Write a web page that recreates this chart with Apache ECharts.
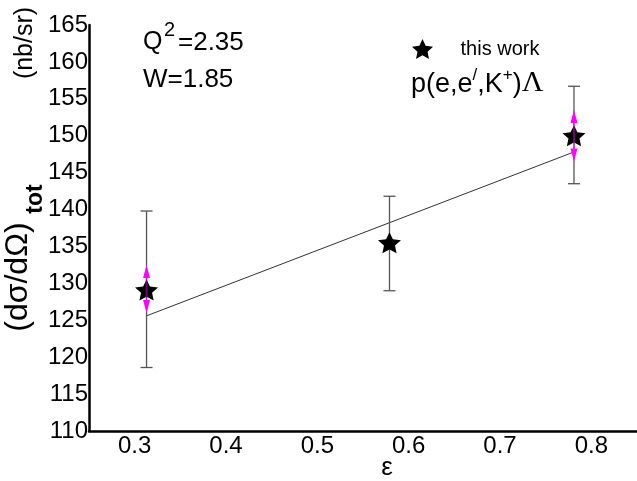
<!DOCTYPE html>
<html>
<head>
<meta charset="utf-8">
<script src="https://cdn.jsdelivr.net/npm/echarts@6/dist/echarts.min.js"></script>
<style>html,body{margin:0;padding:0;background:#fff}#c{width:637px;height:481px}</style>
</head>
<body>
<div id="c"></div>
<script>
// ---- data ----
const epsilon = [0.313, 0.579, 0.781];
const sigma = [129.1, 135.5, 150.0];
const errLow = [118.6, 129.0, 143.5];
const errHigh = [139.8, 141.8, 156.7];
const sysEps = [0.313, 0.781];
const sysLow = [126.0, 146.5];
const sysHigh = [132.5, 153.5];
const fitEps = [0.313, 0.781];
const fitVal = [125.6, 147.8];
const yTicks = [110, 115, 120, 125, 130, 135, 140, 145, 150, 155, 160, 165];
const xTicks = [0.3, 0.4, 0.5, 0.6, 0.7, 0.8];

const STAR = 'path://M50,0 L64.11,30.58 L97.55,34.55 L72.83,57.42 L79.39,90.45 L50,74 L20.61,90.45 L27.17,57.42 L2.45,34.55 L35.89,30.58 Z';
const FONT = 'Arial, "Liberation Sans", Helvetica, sans-serif';

const chart = echarts.init(document.getElementById('c'), null, {renderer: 'canvas'});

const errData = epsilon.map((e, i) => [e, errLow[i], errHigh[i]]);
const sysData = sysEps.map((e, i) => [e, sysLow[i], sysHigh[i]]);

chart.setOption({
  animation: false,
  backgroundColor: '#ffffff',
  textStyle: {fontFamily: FONT},
  grid: {left: 89, right: 0, top: 25, bottom: 50, containLabel: false},
  legend: {
    data: [{name: 'this work', icon: STAR, itemStyle: {color: '#000', opacity: 1}}],
    left: 407, top: 34,
    itemWidth: 22, itemHeight: 20,
    textStyle: {fontSize: 20, color: '#000', fontFamily: FONT, padding: [0, 0, 0, 22]},
    selectedMode: false
  },
  xAxis: {
    type: 'value', min: 0.25, max: 0.85,
    splitNumber: 6,
    axisLine: {show: true, lineStyle: {color: '#000', width: 2.5}},
    axisTick: {show: false},
    splitLine: {show: false},
    axisLabel: {
      showMinLabel: false, showMaxLabel: false,
      fontSize: 24, color: '#000', margin: 3, fontFamily: FONT,
      formatter: v => {
        const t = xTicks.find(k => Math.abs(k - v) < 1e-6);
        return t === undefined ? '' : t.toFixed(1);
      }
    }
  },
  yAxis: {
    type: 'value', min: yTicks[0], max: yTicks[yTicks.length - 1], interval: 5,
    axisLine: {show: true, lineStyle: {color: '#000', width: 2.5}},
    axisTick: {show: false},
    splitLine: {show: false},
    axisLabel: {fontSize: 24, color: '#000', margin: 1, fontFamily: FONT}
  },
  graphic: [
    {type: 'text', left: 143, top: 30, style: {text: 'Q', fontSize: 25, fontFamily: FONT, fill: '#000'}},
    {type: 'text', left: 164, top: 20, style: {text: '2', fontSize: 20, fontFamily: FONT, fill: '#000'}},
    {type: 'text', left: 178, top: 30, style: {text: '=2.35', fontSize: 26, fontFamily: FONT, fill: '#000'}},
    {type: 'text', left: 143, top: 67, style: {text: 'W=1.85', fontSize: 26, fontFamily: FONT, fill: '#000'}},
    {type: 'text', left: 411, top: 67, style: {
      text: '{a|p(e,e}{s|/}{a|,K}{s|+}{a|)}{g|Λ}',
      rich: {
        a: {fontSize: 27, fontFamily: FONT, fill: '#000', lineHeight: 31, verticalAlign: 'bottom'},
        s: {fontSize: 17, fontFamily: FONT, fill: '#000', lineHeight: 17, verticalAlign: 'top'},
        g: {fontSize: 30, fontFamily: '"Liberation Serif", "Times New Roman", serif', fill: '#000', lineHeight: 31, verticalAlign: 'bottom'}
      }
    }},
    {type: 'text', x: 25, y: 43, rotation: Math.PI / 2, style: {
      text: '(nb/sr)', fontSize: 25, fontFamily: FONT, fill: '#000', align: 'center', verticalAlign: 'middle'}},
    {type: 'text', x: 18, y: 277, rotation: Math.PI / 2, style: {
      text: '(dσ/dΩ)', fontSize: 32, fontFamily: FONT, fill: '#000', align: 'center', verticalAlign: 'middle'}},
    {type: 'text', x: 36, y: 199, rotation: Math.PI / 2, style: {
      text: 'tot', fontSize: 23, fontWeight: 'bold', fontFamily: FONT, fill: '#000', align: 'center', verticalAlign: 'middle'}},
    {type: 'text', x: 387, y: 468, style: {
      text: 'ε', fontSize: 26, fontFamily: FONT, fill: '#000', align: 'center', verticalAlign: 'middle'}}
  ],
  series: [
    {
      name: 'fit', type: 'line', data: fitEps.map((e, i) => [e, fitVal[i]]),
      symbol: 'none', lineStyle: {color: '#333', width: 1}, z: 2, silent: true
    },
    {
      name: 'stat', type: 'custom', data: errData, z: 3,
      renderItem: function (params, api) {
        const x = api.value(0);
        const lo = api.coord([x, api.value(1)]);
        const hi = api.coord([x, api.value(2)]);
        const w = 6;
        const st = {stroke: '#555', lineWidth: 1.3};
        return {type: 'group', children: [
          {type: 'line', shape: {x1: lo[0], y1: lo[1], x2: hi[0], y2: hi[1]}, style: st},
          {type: 'line', shape: {x1: lo[0] - w, y1: lo[1], x2: lo[0] + w, y2: lo[1]}, style: st},
          {type: 'line', shape: {x1: hi[0] - w, y1: hi[1], x2: hi[0] + w, y2: hi[1]}, style: st}
        ]};
      }
    },
    {
      name: 'this work', type: 'scatter', data: epsilon.map((e, i) => [e, sigma[i]]),
      symbol: STAR, symbolSize: [23, 21], itemStyle: {color: '#000', opacity: 1}, z: 4
    },
    {
      name: 'sys', type: 'custom', data: sysData, z: 5,
      renderItem: function (params, api) {
        const x = api.value(0);
        const lo = api.coord([x, api.value(1)]);
        const hi = api.coord([x, api.value(2)]);
        const hw = 3.5, h = 13;
        return {type: 'group', children: [
          {type: 'line', shape: {x1: lo[0], y1: lo[1] - h, x2: hi[0], y2: hi[1] + h},
            style: {stroke: 'rgba(255,0,255,0.45)', lineWidth: 2}},
          {type: 'polygon', shape: {points: [[hi[0], hi[1]], [hi[0] - hw, hi[1] + h], [hi[0] + hw, hi[1] + h]]},
            style: {fill: '#ff00ff'}},
          {type: 'polygon', shape: {points: [[lo[0], lo[1]], [lo[0] - hw, lo[1] - h], [lo[0] + hw, lo[1] - h]]},
            style: {fill: '#ff00ff'}}
        ]};
      }
    }
  ]
});
</script>
</body>
</html>
